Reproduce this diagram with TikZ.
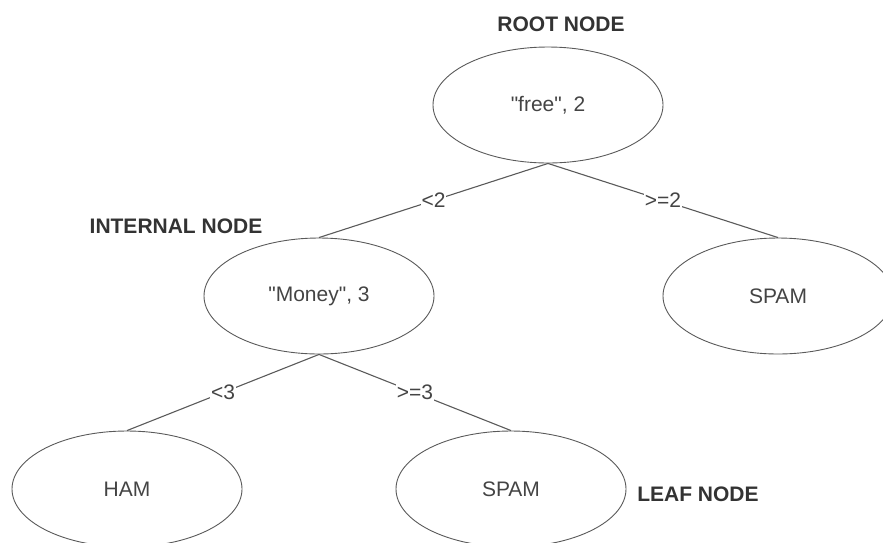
\documentclass[tikz,border=0pt]{standalone}
\usepackage{fontspec}
\setmainfont{Liberation Sans}
\usetikzlibrary{shapes.geometric}
\definecolor{inkline}{HTML}{5A5A5A}
\definecolor{inktext}{HTML}{444444}
\definecolor{inkbold}{HTML}{333333}
\tikzset{
  treenode/.style={ellipse, draw=inkline, line width=0.9pt, minimum width=230pt,
    minimum height=116pt, inner sep=0pt, text=inktext,
    font=\fontsize{21}{25}\selectfont},
  branch/.style={draw=inkline, line width=1.1pt},
  cond/.style={fill=white, inner sep=1pt, text=inktext,
    font=\fontsize{21}{25}\selectfont},
  tag/.style={text=inkbold, font=\fontsize{21}{25}\selectfont\bfseries}
}
\begin{document}
\begin{tikzpicture}[x=1pt, y=-1pt]
  \clip (0,0) rectangle (883,542);
  \useasboundingbox (0,0) rectangle (883,542);
  % decision tree nodes
  \node[treenode] (root) at (548,105) {\textquotedbl free\textquotedbl, 2};
  \node[treenode] (money) at (319,296) {\textquotedbl Money\textquotedbl, 3};
  \node[treenode] (spamR) at (778,296) {SPAM};
  \node[treenode] (ham) at (127,489) {HAM};
  \node[treenode] (spamL) at (511,489) {SPAM};
  % branches with split conditions
  \draw[branch] (root.south) -- (money.north) node[cond, midway] {<2};
  \draw[branch] (root.south) -- (spamR.north) node[cond, midway] {>=2};
  \draw[branch] (money.south) -- (ham.north) node[cond, midway] {<3};
  \draw[branch] (money.south) -- (spamL.north) node[cond, midway] {>=3};
  % captions
  \node[tag] (rootcap) at (561,24) {ROOT NODE};
  \node[tag] (intcap) at (176,226) {INTERNAL NODE};
  \node[tag] (leafcap) at (698,494) {LEAF NODE};
\end{tikzpicture}
\end{document}
